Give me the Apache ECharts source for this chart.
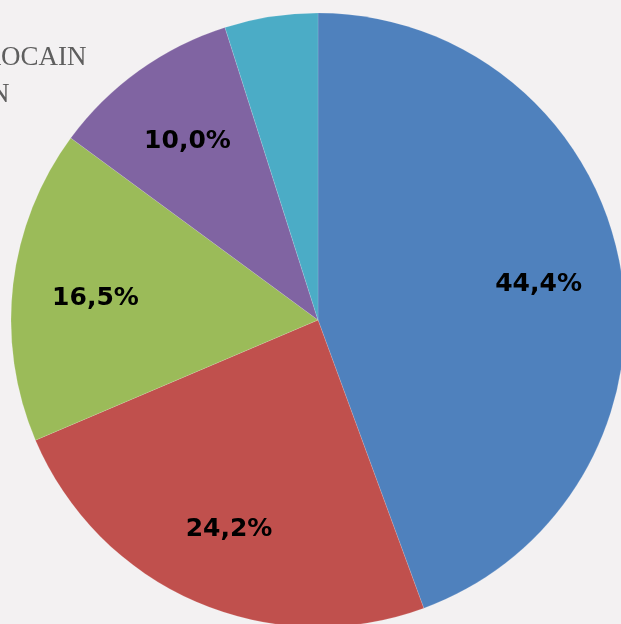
<!DOCTYPE html>
<html>
<head>
<meta charset="utf-8">
<style>
html,body{margin:0;padding:0;background:#f3f1f2;}
#c{width:621px;height:624px;}
</style>
<script src="https://cdn.jsdelivr.net/npm/echarts@6/dist/echarts.min.js"></script>
</head>
<body>
<div id="c"></div>
<script>
var categories = ['A', 'B', 'C', 'D', 'E'];
var values = [44.4, 24.2, 16.5, 10.0, 4.9];
var labels = ['44,4%', '24,2%', '16,5%', '10,0%', ''];
var colors = ['#4f81bd', '#c0504d', '#9bbb59', '#8064a2', '#4bacc6'];
var titleLines = ['ROCAIN', 'N'];

var chart = echarts.init(document.getElementById('c'));
var R = 307;
var baseData = categories.map(function (c, i) {
  return { name: c, value: values[i], itemStyle: { color: colors[i] } };
});
var labelData = categories.map(function (c, i) {
  return { name: c, value: values[i], label: { show: labels[i] !== '', formatter: labels[i] } };
});
chart.setOption({
  backgroundColor: '#f3f1f2',
  animation: false,
  graphic: [
    { type: 'text', left: -17, top: 44, style: { text: titleLines[0], font: '27px "Liberation Serif", serif', fill: '#5e5e5e' } },
    { type: 'text', left: -10, top: 81, style: { text: titleLines[1], font: '27px "Liberation Serif", serif', fill: '#5e5e5e' } }
  ],
  series: [
    {
      type: 'pie',
      center: [318, 320],
      radius: [0, R],
      startAngle: 90,
      clockwise: true,
      label: { show: false },
      labelLine: { show: false },
      itemStyle: { borderColor: 'rgba(255,255,255,0.25)', borderWidth: 0.5 },
      emphasis: { disabled: true },
      data: baseData
    },
    {
      type: 'pie',
      center: [318, 320],
      radius: [R * 0.44, R],
      startAngle: 90,
      clockwise: true,
      silent: true,
      itemStyle: { color: 'rgba(0,0,0,0)' },
      label: {
        position: 'inside',
        color: '#000',
        fontFamily: '"DejaVu Sans", Verdana, sans-serif',
        fontWeight: 'bold',
        fontSize: 25,
        offset: [0, 4]
      },
      labelLine: { show: false },
      emphasis: { disabled: true },
      data: labelData
    }
  ]
});
</script>
</body>
</html>
